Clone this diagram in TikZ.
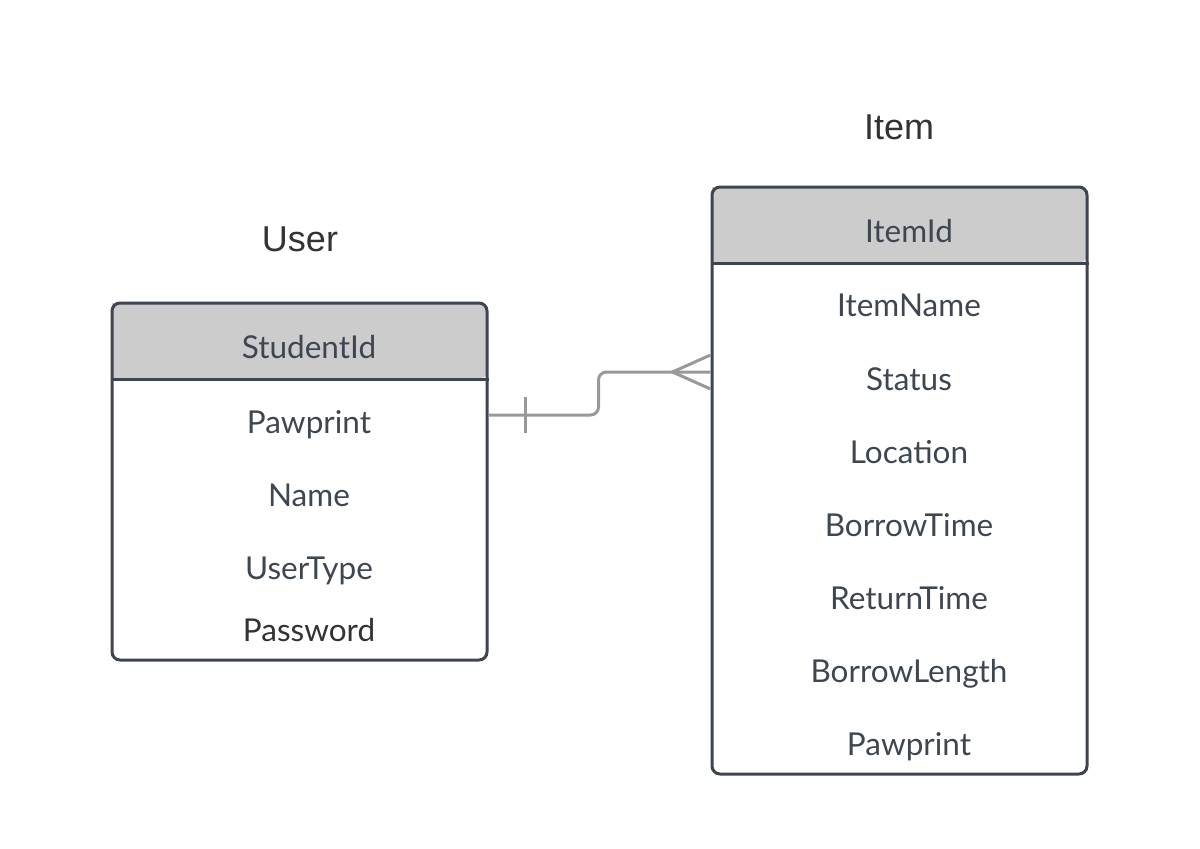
\documentclass[tikz,border=0pt]{standalone}
\usepackage{fontspec}
\setmainfont{Lato}
\newfontfamily\titlefont{Liberation Sans}
\usetikzlibrary{calc}
\definecolor{slate}{HTML}{3D4650}
\definecolor{slatetext}{HTML}{3D4752}
\definecolor{darktext}{HTML}{333333}
\definecolor{headfill}{HTML}{CCCCCC}
\definecolor{conngray}{HTML}{999999}
\tikzset{
  entitybox/.style={rectangle, draw=slate, line width=3pt, rounded corners=8pt, inner sep=0pt},
  attr/.style={font=\fontsize{31.5}{36}\selectfont, text=slatetext, anchor=base},
  title/.style={font=\titlefont\fontsize{36}{40}\selectfont, text=darktext, anchor=base},
  conn/.style={draw=conngray, line width=3pt},
  sepline/.style={draw=slate, line width=3pt}
}
\begin{document}
\begin{tikzpicture}[x=1pt,y=-1pt]
\useasboundingbox (0,0) rectangle (1200,849);
% header fills
\fill[headfill, rounded corners=8pt] (112,303) -- (487,303) -- (487,379) [sharp corners] -- (112,379) -- cycle;
\fill[headfill, rounded corners=8pt] (712,187) -- (1087,187) -- (1087,263) [sharp corners] -- (712,263) -- cycle;
% boxes
\node[entitybox, minimum width=375pt, minimum height=357pt] (user) at (299.5,481.5) {};
\node[entitybox, minimum width=375pt, minimum height=587pt] (item) at (899.5,480.5) {};
\draw[sepline] (user.west |- 0,379) -- (user.east |- 0,379);
\draw[sepline] (item.west |- 0,263) -- (item.east |- 0,263);
% titles
\node[title] (usertitle) at (300,251) {User};
\node[title] (itemtitle) at (899,139) {Item};
% user attributes
\node[attr] (u1) at (309,358) {StudentId};
\node[attr] (u2) at (309,433) {Pawprint};
\node[attr] (u3) at (309,506) {Name};
\node[attr] (u4) at (309,579) {UserType};
\node[attr, text=darktext] (u5) at (309,641) {Password};
% item attributes
\node[attr] (i1) at (909,242) {ItemId};
\node[attr] (i2) at (909,316) {ItemName};
\node[attr] (i3) at (909,390) {Status};
\node[attr] (i4) at (909,463) {Location};
\node[attr] (i5) at (909,536) {BorrowTime};
\node[attr] (i6) at (909,609) {ReturnTime};
\node[attr] (i7) at (909,682) {BorrowLength};
\node[attr] (i8) at (909,755) {Pawprint};
% connector
\coordinate (ua) at ([yshift=66.5pt]user.east);
\coordinate (ib) at ([yshift=108.5pt]item.west);
\draw[conn, rounded corners=8pt] (ua) -- ++(110,0) |- (ib);
\draw[conn] ([xshift=37pt,yshift=18pt]ua) -- ([xshift=37pt,yshift=-18pt]ua);
\draw[conn] ([yshift=17pt]ib) -- ([xshift=-38pt]ib) -- ([yshift=-17pt]ib);
\end{tikzpicture}
\end{document}
